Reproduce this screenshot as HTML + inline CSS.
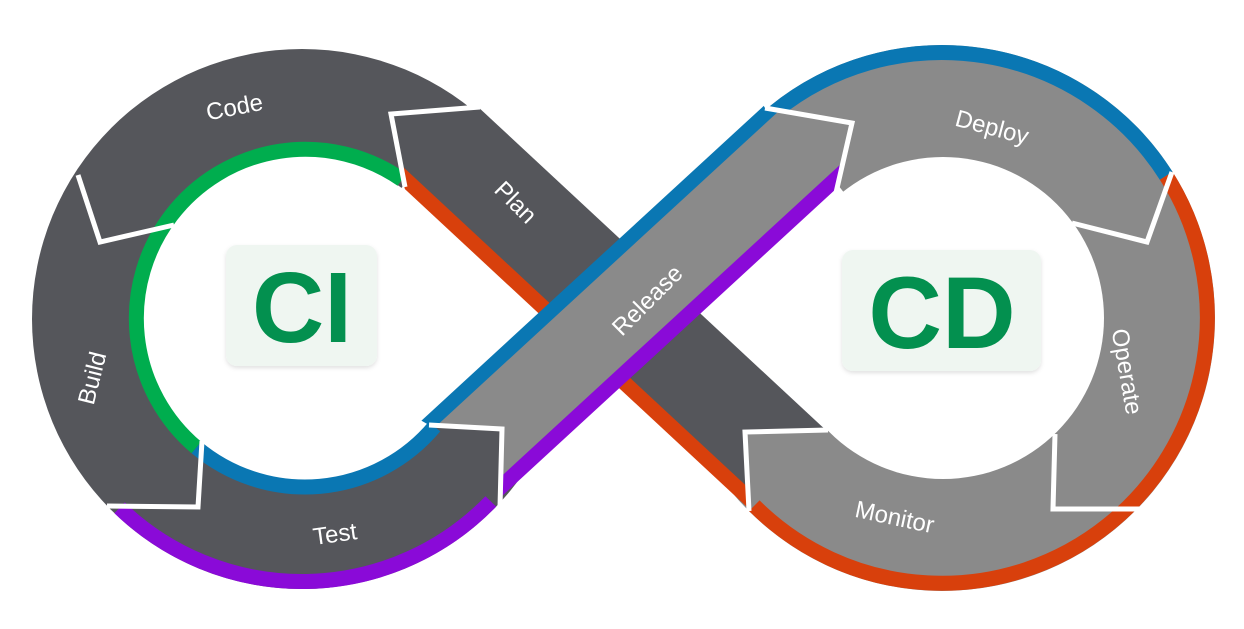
<!DOCTYPE html>
<html><head><meta charset="utf-8"><style>
html,body{margin:0;padding:0;background:#fff;width:1244px;height:629px;overflow:hidden}
svg{display:block}
text{font-family:"Liberation Sans",sans-serif}
</style></head><body>
<svg width="1244" height="629" viewBox="0 0 1244 629" xmlns="http://www.w3.org/2000/svg">
<defs>
<clipPath id="planClip"><polygon points="480,107 391,114 405,190 380,230 700,560 749,511 745,432 828,430 900,430 600,0 480,0"/></clipPath>
<clipPath id="relClip"><polygon points="429,425 502,429 500,507 520,600 1000,300 835,197 852,123 765,108 700,0 350,380"/></clipPath>
<filter id="sh" x="-10%" y="-10%" width="120%" height="130%"><feDropShadow dx="0" dy="2" stdDeviation="2" flood-color="#000" flood-opacity="0.12"/></filter>
</defs>

<circle cx="302" cy="319" r="270" fill="#55565b"/>
<path d="M119.6,507.8 A262.5,262.5 0 0 0 490.8,501.4" fill="none" stroke="#8a0ad8" stroke-width="15"/>
<circle cx="942" cy="318" r="273" fill="#8a8a8a"/>
<path d="M774.9,111.7 A265.5,265.5 0 0 1 1166.2,175.8" fill="none" stroke="#0a77b3" stroke-width="15"/>
<path d="M1166.2,175.8 A265.5,265.5 0 0 1 754.3,505.7" fill="none" stroke="#d8400c" stroke-width="15"/>

<circle cx="305" cy="318" r="162" fill="#fff"/>
<path d="M196.4,447.5 A169,169 0 0 1 401.9,179.6" fill="none" stroke="#00ad4e" stroke-width="15"/>
<path d="M196.4,447.5 A169,169 0 0 0 434.5,426.6" fill="none" stroke="#0a77b3" stroke-width="15"/>
<polygon points="545,318 403,186 305,318 430,422" fill="#fff"/>
<circle cx="943" cy="318" r="161" fill="#fff"/>
<polygon points="680,330 690,300 834,180 943,318 828,431 700,340" fill="#fff"/>

<g clip-path="url(#planClip)">
<g transform="translate(449,155) rotate(42.9)">
<rect x="-300" y="-55" width="900" height="96" fill="#55565b"/>
<rect x="-300" y="40" width="900" height="15" fill="#d8400c"/>
</g>
</g>

<g clip-path="url(#relClip)">
<g transform="translate(573,356) rotate(-42.6)">
<rect x="-400" y="-55" width="800" height="15" fill="#0a77b3"/>
<rect x="-400" y="-41" width="800" height="82" fill="#8a8a8a"/>
<rect x="-400" y="40" width="800" height="15" fill="#8a0ad8"/>
</g>
</g>

<g fill="none" stroke="#fff" stroke-width="5" stroke-linejoin="miter">
<polyline points="78,175 100,242 174,225"/>
<polyline points="480,107 391,114 405,187"/>
<polyline points="202,441 198,507 107,506"/>
<polyline points="429,425 502,429 500,507"/>
<polyline points="765,108 852,123 835,197"/>
<polyline points="1072,223 1147,242 1172,172"/>
<polyline points="1055,434 1053,509 1142,509"/>
<polyline points="828,430 745,432 749,511"/>
</g>

<g fill="#fff" font-size="24" text-anchor="middle">
<text transform="translate(236,115) rotate(-11)">Code</text>
<text transform="translate(510,208) rotate(45)">Plan</text>
<text transform="translate(100,380) rotate(-76)">Build</text>
<text transform="translate(336,542) rotate(-8)">Test</text>
<text transform="translate(653,306) rotate(-45)">Release</text>
<text transform="translate(990,135) rotate(15)">Deploy</text>
<text transform="translate(1119,373) rotate(80)">Operate</text>
<text transform="translate(893,525) rotate(12)">Monitor</text>
</g>

<rect x="226" y="245" width="151" height="121" rx="11" fill="#eff6f1" filter="url(#sh)"/>
<text x="302" y="342" font-size="100" font-weight="bold" fill="#03904f" text-anchor="middle">CI</text>
<rect x="842" y="250" width="199" height="121" rx="11" fill="#eff6f1" filter="url(#sh)"/>
<text x="942" y="348" font-size="102" font-weight="bold" fill="#03904f" text-anchor="middle">CD</text>
</svg>
</body></html>
